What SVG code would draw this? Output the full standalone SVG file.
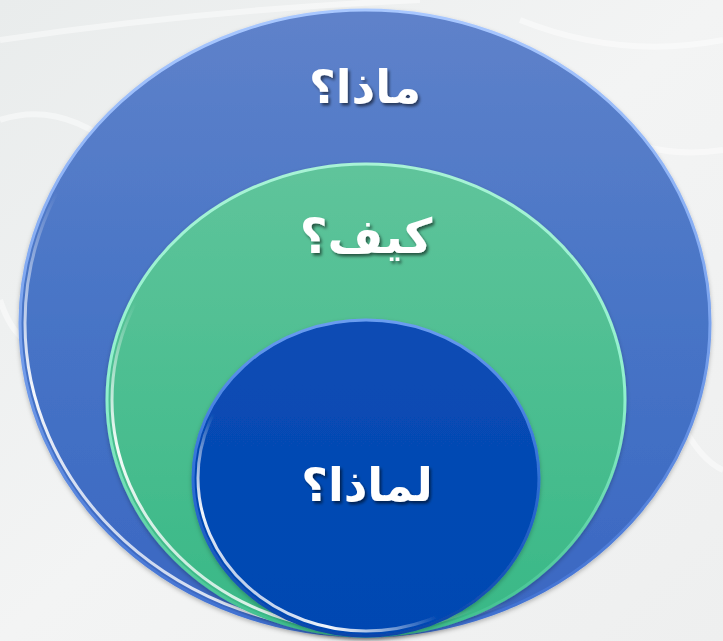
<svg xmlns="http://www.w3.org/2000/svg" width="723" height="641" viewBox="0 0 723 641">
<defs>
<linearGradient id="bg" x1="0" y1="0" x2="1" y2="1">
<stop offset="0" stop-color="#e9ecec"/>
<stop offset="0.5" stop-color="#f3f4f4"/>
<stop offset="1" stop-color="#eeefef"/>
</linearGradient>
<linearGradient id="gOuter" x1="0" y1="0" x2="0" y2="1">
<stop offset="0" stop-color="#5f82ca"/>
<stop offset="0.5" stop-color="#4774c6"/>
<stop offset="1" stop-color="#3a67c2"/>
</linearGradient>
<linearGradient id="gGreen" x1="0" y1="0" x2="0" y2="1">
<stop offset="0" stop-color="#5fc49b"/>
<stop offset="1" stop-color="#38b886"/>
</linearGradient>
<linearGradient id="gInner" x1="0" y1="0" x2="0" y2="1">
<stop offset="0" stop-color="#0a4cb4"/>
<stop offset="1" stop-color="#0047b2"/>
</linearGradient>
<linearGradient id="rimBlue" x1="0" y1="0" x2="0" y2="1">
<stop offset="0" stop-color="#a9c8ff"/>
<stop offset="0.5" stop-color="#7aa3ee"/>
<stop offset="1" stop-color="#3d6ed0"/>
</linearGradient>
<linearGradient id="rimGreen" x1="0" y1="0" x2="0" y2="1">
<stop offset="0" stop-color="#a8f3d6"/>
<stop offset="0.5" stop-color="#8ff0cc"/>
<stop offset="1" stop-color="#3dbd8c"/>
</linearGradient>
<linearGradient id="rimInner" x1="0" y1="0" x2="0" y2="1">
<stop offset="0" stop-color="#6b9df0"/>
<stop offset="0.5" stop-color="#2f6fd6"/>
<stop offset="1" stop-color="#0a45a8"/>
</linearGradient>
<linearGradient id="glint" x1="1" y1="0" x2="0" y2="1">
<stop offset="0" stop-color="#ffffff" stop-opacity="0"/>
<stop offset="0.62" stop-color="#ffffff" stop-opacity="0"/>
<stop offset="0.8" stop-color="#ffffff" stop-opacity="0.95"/>
<stop offset="0.92" stop-color="#ffffff" stop-opacity="0.5"/>
<stop offset="1" stop-color="#ffffff" stop-opacity="0"/>
</linearGradient>
<filter id="shadow" x="-20%" y="-20%" width="140%" height="140%">
<feDropShadow dx="2" dy="2.5" stdDeviation="1.5" flood-color="#000" flood-opacity="0.55"/>
</filter>
<filter id="soft" x="-5%" y="-5%" width="110%" height="110%">
<feDropShadow dx="0" dy="2" stdDeviation="2" flood-color="#000" flood-opacity="0.25"/>
</filter>
</defs>
<style>
.lbl { font-family: "DejaVu Sans", "Noto Sans", sans-serif; font-weight: bold; fill: #ffffff; text-anchor: middle; filter: url(#shadow); }
.tex { fill: none; stroke: #ffffff; stroke-opacity: 0.45; stroke-width: 6; }
.glint { fill: none; stroke: url(#glint); stroke-width: 3; }
</style>
<rect width="723" height="641" fill="url(#bg)"/>
<g id="background-texture">
<path class="tex" d="M0 40 Q200 10 420 0"/>
<path class="tex" d="M0 120 Q60 100 120 150 Q180 200 250 190"/>
<path class="tex" d="M520 20 Q620 60 723 40"/>
<path class="tex" d="M600 130 Q660 160 723 150"/>
<path class="tex" d="M0 300 Q10 330 25 340"/>
<path class="tex" d="M680 420 Q700 460 723 470"/>
</g>
<g id="outer-node" filter="url(#soft)">
<ellipse cx="365" cy="323" rx="345" ry="313" fill="url(#gOuter)" stroke="url(#rimBlue)" stroke-width="3"/>
<ellipse class="glint" cx="365" cy="323" rx="340" ry="308"/>
<text class="lbl" x="365" y="103" font-size="46">ماذا؟</text>
</g>
<g id="middle-node" filter="url(#soft)">
<ellipse cx="366" cy="400" rx="259" ry="236" fill="url(#gGreen)" stroke="url(#rimGreen)" stroke-width="3"/>
<ellipse class="glint" cx="366" cy="400" rx="254" ry="231"/>
<text class="lbl" x="366" y="253" font-size="48">كيف؟</text>
</g>
<g id="inner-node" filter="url(#soft)">
<ellipse cx="366" cy="478" rx="173" ry="158" fill="url(#gInner)" stroke="url(#rimInner)" stroke-width="3"/>
<ellipse class="glint" cx="366" cy="478" rx="168" ry="153"/>
<text class="lbl" x="367" y="501" font-size="46">لماذا؟</text>
</g>
<g id="connectors"/>
</svg>
